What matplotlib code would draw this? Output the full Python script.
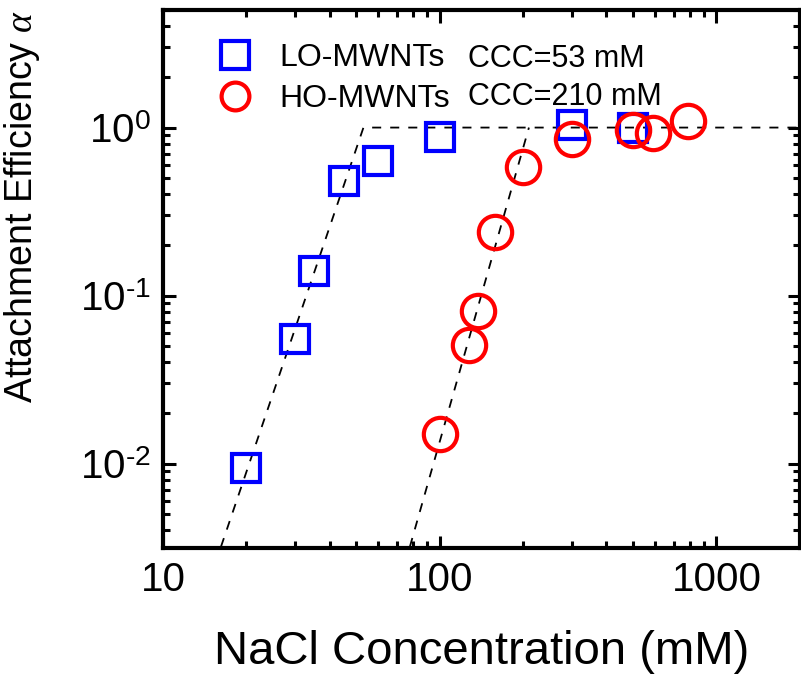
#!/usr/bin/env python3

import matplotlib
matplotlib.use('Agg')
import matplotlib.pyplot as plt
from matplotlib.ticker import LogLocator, FixedLocator, NullFormatter
from matplotlib.lines import Line2D
import numpy as np

plt.rcParams['font.family'] = ['Liberation Sans', 'DejaVu Sans']
plt.rcParams['mathtext.fontset'] = 'custom'
plt.rcParams['mathtext.it'] = 'Liberation Serif:italic'
plt.rcParams['mathtext.rm'] = 'Liberation Sans'

# data
lo_x = [20, 30, 35, 45, 60, 100, 300, 500]
lo_y = [0.0094, 0.055, 0.14, 0.48, 0.63, 0.88, 1.03, 1.0]
ho_x = [100, 128, 138, 158, 200, 300, 500, 590, 790]
ho_y = [0.015, 0.051, 0.081, 0.24, 0.585, 0.85, 0.97, 0.93, 1.1]

# fitted lines (diffusion-limited / reaction-limited regimes)
lo_fit_x = [16.2, 53, 2000]
lo_fit_y = [0.0032, 1.0, 1.0]
ho_fit_x = [78, 210]
ho_fit_y = [0.0032, 1.0]

lo_ccc = 'CCC=53 mM'
ho_ccc = 'CCC=210 mM'
ytick_vals = [0.01, 0.1, 1]
ytick_labels = ['10$^{\u2010\\mathregular{2}}$', '10$^{\u2010\\mathregular{1}}$', '10$^{\\mathregular{0}}$']

fig = plt.figure(figsize=(8.01, 6.76), dpi=100)
ax = fig.add_axes([0.2035, 0.19, 0.795, 0.795])

ax.plot(lo_fit_x, lo_fit_y, 'k--', lw=1.3, dashes=(5, 5), zorder=1)
ax.plot(ho_fit_x, ho_fit_y, 'k--', lw=1.3, dashes=(5, 5), zorder=1)

ax.plot(lo_x, lo_y, 's', ms=19.5, mfc='none', mec='#0000ff', mew=3, zorder=2)
ax.plot(ho_x, ho_y, 'o', ms=24, mfc='none', mec='#ff0000', mew=3, zorder=3)

ax.set_xscale('log')
ax.set_yscale('log')
ax.set_xlim(10, 2000)
ax.set_ylim(10**-2.5, 5)

ax.xaxis.set_major_locator(FixedLocator([10, 100, 1000]))
ax.xaxis.set_minor_locator(LogLocator(base=10, subs=np.arange(2, 10)))
ax.xaxis.set_minor_formatter(NullFormatter())
ax.set_xticklabels(['10', '100', '1000'], fontsize=29)
ax.yaxis.set_major_locator(FixedLocator(ytick_vals))
ax.yaxis.set_minor_locator(LogLocator(base=10, subs=np.arange(2, 10)))
ax.yaxis.set_minor_formatter(NullFormatter())
ax.set_yticklabels(ytick_labels, fontsize=29)

ax.tick_params(which='both', direction='in', top=True, right=True, width=2.2)
ax.tick_params(which='major', length=9)
ax.tick_params(which='minor', length=5)
ax.tick_params(axis='x', pad=10)
ax.tick_params(axis='y', pad=9)
for s in ax.spines.values():
    s.set_linewidth(3)

ax.set_xlabel('NaCl Concentration (mM)', fontsize=34, labelpad=22)
ax.set_ylabel(r'Attachment Efficiency $\alpha$', fontsize=27)
ax.yaxis.set_label_coords(-0.19, 0.635)

handles = [Line2D([], [], ls='none', marker='s', ms=19.5, mfc='none', mec='#0000ff', mew=3),
           Line2D([], [], ls='none', marker='o', ms=20, mfc='none', mec='#ff0000', mew=3)]
ax.legend(handles, ['LO-MWNTs', 'HO-MWNTs'], loc='upper left', bbox_to_anchor=(0.075, 0.938),
          frameon=False, fontsize=23, borderaxespad=0, borderpad=0,
          handlelength=1.5, handletextpad=0.66, labelspacing=0.33)
ax.text(0.479, 0.894, lo_ccc, transform=ax.transAxes, fontsize=22, va='baseline')
ax.text(0.479, 0.823, ho_ccc, transform=ax.transAxes, fontsize=22, va='baseline')

fig.savefig('out.png', dpi=100)
